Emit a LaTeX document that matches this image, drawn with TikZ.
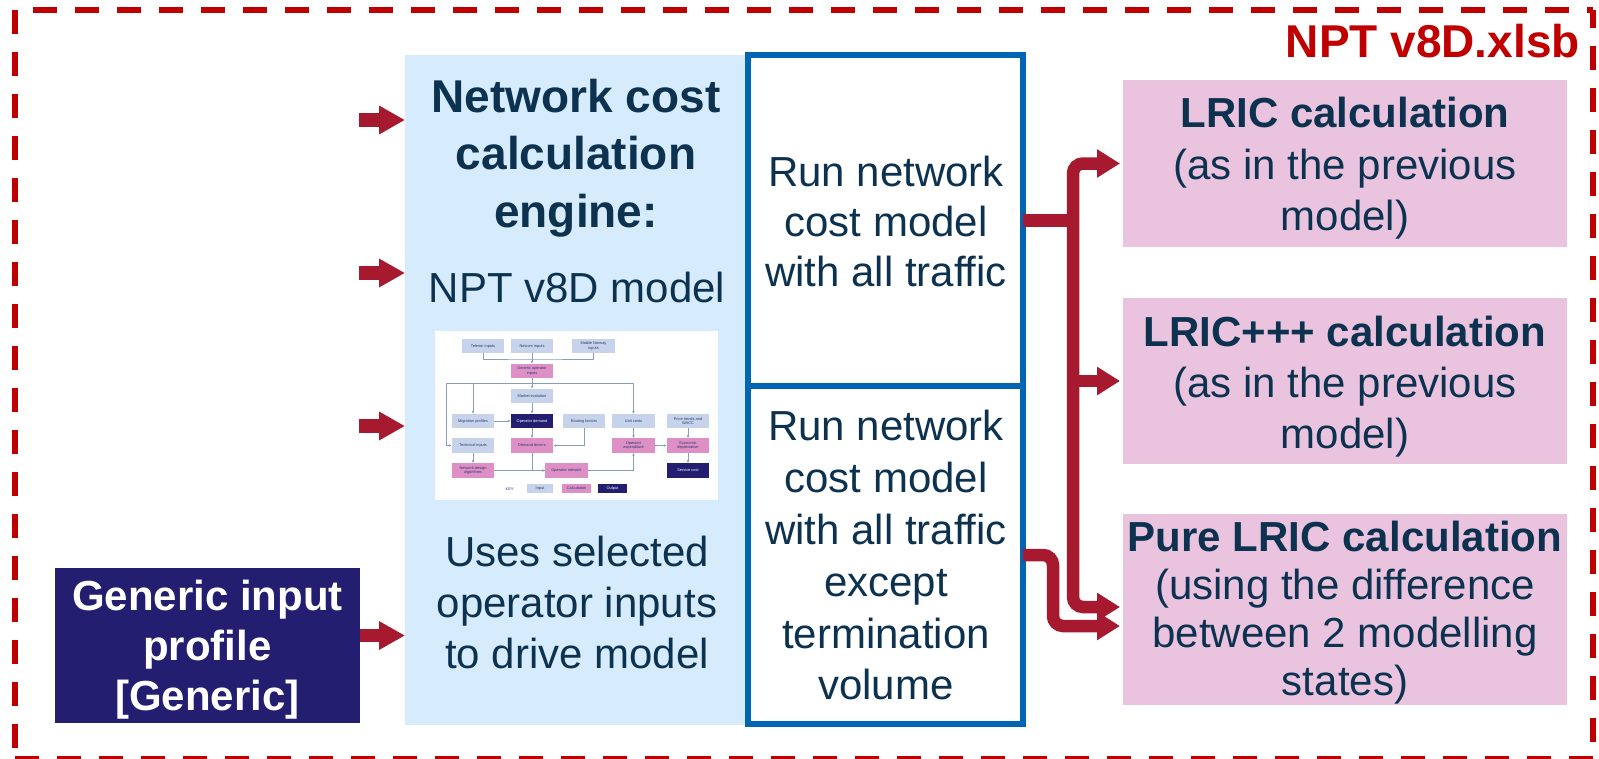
\documentclass[tikz,border=0pt]{standalone}
\usepackage{fontspec}
\setmainfont{Liberation Sans}
\usetikzlibrary{arrows.meta,calc}

\definecolor{ink}{RGB}{13,50,80}
\definecolor{panelblue}{RGB}{214,236,252}
\definecolor{frameblue}{RGB}{0,101,179}
\definecolor{calcpink}{RGB}{234,196,223}
\definecolor{navy}{RGB}{35,30,112}
\definecolor{flowred}{RGB}{166,25,46}
\definecolor{filered}{RGB}{192,0,0}
\definecolor{miniin}{RGB}{199,211,234}
\definecolor{minicalc}{RGB}{222,143,198}
\definecolor{miniline}{RGB}{135,158,190}
\definecolor{minitext}{RGB}{40,60,110}

\tikzset{
  fsz/.style 2 args={font=\fontsize{#1}{#2}\selectfont},
  bfsz/.style 2 args={font=\fontsize{#1}{#2}\selectfont\bfseries},
  area/.style={inner sep=0pt, outer sep=0pt, draw=none},
  lbl/.style={text=ink, align=center, inner sep=0pt},
  runbox/.style={area, draw=frameblue, line width=5.5pt},
  feed/.style={draw=flowred, line width=13.5pt, -{Triangle[length=26pt,width=27pt]}},
  conn/.style={draw=flowred, line width=12.5pt},
  tip/.tip={Triangle[length=23pt,width=27pt]},
  filebox/.style={draw=filered, line width=6pt, dash pattern=on 24pt off 18pt},
  mini/.style={inner sep=0pt, minimum width=42.5pt, minimum height=14.5pt, align=center,
    font=\fontsize{3.9}{4.4}\selectfont, text=minitext},
  mininput/.style={mini, fill=miniin},
  minicalc/.style={mini, fill=minicalc},
  miniout/.style={mini, fill=navy, text=white},
  minikey/.style={inner sep=0pt, minimum height=9.5pt, font=\fontsize{3.9}{4.4}\selectfont, text=minitext},
  wire/.style={draw=miniline, line width=0.7pt},
  wirearrow/.style={wire, -{Latex[length=2.6pt,width=2.6pt]}},
}

\begin{document}
\begin{tikzpicture}[x=1pt,y=-1pt]
\useasboundingbox (0,0) rectangle (1599,758);

% workbook frame
\draw[filebox, dash phase=24pt] (15,10) -- (1593,10);
\draw[filebox] (15,10) -- (15,759);
\draw[filebox] (15,759) -- (1593,759);
\draw[filebox, dash phase=25pt] (1593,759) -- (1593,10);
\node[anchor=base east, text=filered, bfsz={46}{50}, inner sep=0pt] (fname) at (1580,57) {NPT v8D.xlsb};

% engine panel and run boxes
\node[area, fill=panelblue, minimum width=343pt, minimum height=670pt] (panel) at (576.5,390) {};
\node[runbox, minimum width=275pt, minimum height=331pt] (tbox) at (885.5,220.5) {};
\node[runbox, minimum width=275pt, minimum height=338pt] (bbox) at (885.5,555) {};

% result boxes
\node[area, fill=calcpink, minimum width=444pt, minimum height=167pt] (p1) at (1345,163.5) {};
\node[area, fill=calcpink, minimum width=444pt, minimum height=166pt] (p2) at (1345,381) {};
\node[area, fill=calcpink, minimum width=444pt, minimum height=191pt] (p3) at (1345,609.5) {};

% input profile
\node[area, fill=navy, minimum width=305pt, minimum height=155pt] (gen) at (207.5,645.5) {};

% texts
\node[lbl, bfsz={46}{57.5}] (title) at (576,158.2) {\strut Network cost\\\strut calculation\\\strut engine:};
\node[lbl, fsz={42}{51}] (mdl) at (577,291.8) {\strut NPT v8D model};
\node[lbl, fsz={42}{51}] (uses) at (577,607) {\strut Uses selected\\\strut operator inputs\\\strut to drive model};
\node[lbl, fsz={42}{50}] (runall) at (886,226.7) {\strut Run network\\\strut cost model\\\strut with all traffic};
\node[lbl, fsz={42}{51.8}] (runexc) at (886,560.1) {\strut Run network\\\strut cost model\\\strut with all traffic\\\strut except\\\strut termination\\\strut volume};
\node[lbl, fsz={42}{51.5}] (t1) at (1345,169) {\strut\textbf{LRIC calculation}\\\strut (as in the previous\\\strut model)};
\node[lbl, fsz={42}{51}] (t2) at (1345,387) {\strut\textbf{LRIC+++ calculation}\\\strut (as in the previous\\\strut model)};
\node[lbl, fsz={42}{47.7}] (t3) at (1345,614) {\strut\textbf{Pure LRIC calculation}\\\strut (using the difference\\\strut between 2 modelling\\\strut states)};
\node[lbl, text=white, bfsz={42}{50}] (gtxt) at (207.5,650) {\strut Generic input\\\strut profile\\\strut [Generic]};

% feeds into the engine
\coordinate (a1) at (359,120);
\coordinate (a2) at (359,273);
\coordinate (a3) at (359,426);
\coordinate (a4) at ([yshift=10pt]gen.east);
\draw[feed] (a1) -- (a1 -| panel.west);
\draw[feed] (a2) -- (a2 -| panel.west);
\draw[feed] (a3) -- (a3 -| panel.west);
\draw[feed] (a4) -- (a4 -| panel.west);

% outputs to the calculations
\coordinate (trunk) at (1073,220.5);
\coordinate (p1in) at ([xshift=-3pt]p1.west);
\coordinate (p2in) at ([xshift=-3pt]p2.west);
\coordinate (p3a) at ([xshift=-3pt,yshift=2.5pt]p3.west);
\coordinate (p3b) at ([xshift=-3pt,yshift=-16.5pt]p3.west);
\coordinate (bend) at (1053,626);
\draw[conn] (tbox.east) -- (trunk);
\draw[conn, rounded corners=10pt, tip-tip] (p1in) -| (trunk) |- (p3a);
\draw[conn, -tip] (trunk |- p2in) -- (p2in);
\draw[conn, rounded corners=10pt, -tip] (bbox.east) -| (bend) -- (p3b);

% model overview chart
\node[area, fill=white, minimum width=283pt, minimum height=169pt] (chart) at (576.5,415.5) {};
\node[mininput] (tel) at (483,346) {Telenor inputs};
\node[mininput] (net) at (532,346) {Netcom inputs};
\node[mininput] (mob) at (593.5,346) {Mobile Norway\\inputs};
\node[minicalc] (goi) at (532,371) {Generic operator\\inputs};
\node[mininput] (mkt) at (532,396) {Market evolution};
\node[mininput] (mig) at (473,421) {Migration profiles};
\node[miniout] (dem) at (532,421) {Operator demand};
\node[mininput] (rout) at (584,421) {Routing factors};
\node[mininput] (unit) at (633.5,421) {Unit costs};
\node[mininput] (price) at (688,421) {Price trends and\\WACC};
\node[mininput] (tech) at (473,445.5) {Technical inputs};
\node[minicalc] (drv) at (532,445.5) {Demand drivers};
\node[minicalc] (opex) at (633.5,445.5) {Operator\\expenditure};
\node[minicalc] (econ) at (688,445.5) {Economic\\depreciation};
\node[minicalc] (nda) at (473,470.5) {Network design\\algorithms};
\node[minicalc] (onet) at (566.5,470.5) {Operator network};
\node[miniout] (svc) at (688,470.5) {Service cost};
\node[minikey, text=minitext] (keylbl) at (510,489) {KEY:};
\node[minikey, fill=miniin, minimum width=26pt] (kin) at (540,488.5) {Input};
\node[minikey, fill=minicalc, minimum width=29pt] (kcalc) at (576.5,488.5) {Calculation};
\node[minikey, fill=navy, text=white, minimum width=29pt] (kout) at (612.5,488.5) {Output};

\coordinate (bus1) at (532,359);
\coordinate (bus2) at (532,383);
\coordinate (busl) at (446,383);
\draw[wire] (tel.south) |- (bus1) -| (mob.south);
\draw[wirearrow] (net.south) -- (goi.north);
\draw[wire] (goi.south) -- (bus2);
\draw[wirearrow] (bus2) -- (mkt.north);
\draw[wirearrow] (bus2) -| (mig.north);
\draw[wirearrow] (bus2) -| (unit.north);
\draw[wirearrow] (bus2) -- (busl) |- (tech.west);
\draw[wirearrow] (mkt.south) -- (dem.north);
\draw[wirearrow] (mig.east) -- (dem.west);
\draw[wirearrow] (dem.south) -- (drv.north);
\draw[wirearrow] (rout.south) |- (drv.east);
\draw[wirearrow] (tech.south) -- (nda.north);
\draw[wirearrow] (drv.south) |- (onet.west);
\draw[wire] (nda.east) -- (onet.west);
\draw[wirearrow] (onet.east) -| (opex.south);
\draw[wirearrow] (unit.south) -- (opex.north);
\draw[wirearrow] (price.south) -- (econ.north);
\draw[wirearrow] (opex.east) -- (econ.west);
\draw[wirearrow] (econ.south) -- (svc.north);
\end{tikzpicture}
\end{document}
